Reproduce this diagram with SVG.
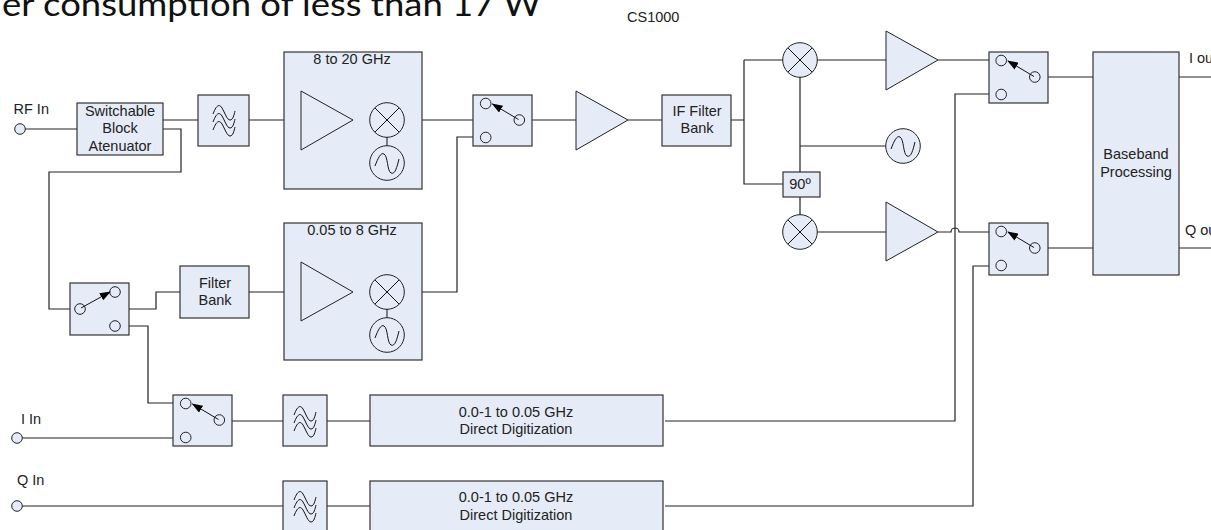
<svg xmlns="http://www.w3.org/2000/svg" width="1211" height="530" viewBox="0 0 1211 530">
<defs>
<marker id="ah" markerWidth="11" markerHeight="8" refX="10" refY="4" orient="auto" markerUnits="userSpaceOnUse"><path d="M0 0L11 4L0 8Z" fill="#000"/></marker>
<g id="mix"><circle r="17.3" class="s"/><path d="M-12.2-12.2L12.2 12.2M-12.2 12.2L12.2-12.2" class="l"/></g>
<g id="osc"><circle r="17.3" class="s"/><path d="M-12 3C-9-5-6-11-3-9C1-7 0 8 4 10C8 12 10 4 12-4" class="l"/></g>
<g id="flt"><path d="M-11-6C-8-14-5-17-2-12S3 0 6 0 10-5 11-9M-11 2C-8-6-5-9-2-4S3 8 6 8 10 3 11-1M-11 10C-8 2-5-1-2 4S3 16 6 16 10 11 11 7" class="l"/></g>
<g id="sw"><circle cx="12.700" cy="8.500" r="5.300" class="s"/><circle cx="46.300" cy="25" r="5.300" class="s"/><circle cx="12.700" cy="42.500" r="5.300" class="s"/><path d="M45.500 24.500L19.500 9" class="l" marker-end="url(#ah)"/></g>
</defs>
<style>
.s{fill:#e5ecf7;stroke:#222;stroke-width:1}
.b{fill:#e5ecf7;stroke:#333;stroke-width:1.200}
.l{fill:none;stroke:#111;stroke-width:1}
.c{fill:none;stroke:#222;stroke-width:1.200}
text{font-family:"Liberation Sans",Arial,sans-serif;font-size:14.500px;fill:#222}
.m{text-anchor:middle}
</style>
<text x="2" y="15.500" textLength="539" lengthAdjust="spacingAndGlyphs" style="font-family:Lato,sans-serif;font-size:33px;fill:#111">er consumption of less than 17 W</text>
<text x="627" y="22">CS1000</text>
<g id="connectors" class="c">
<path d="M25 129H77M163 120H198M249 120H284M163 129H181V172H49V309H70M422 120H473M532 120H576M628 120H662M731 120H744M744 60H783M744 60V184H783M800 77V172M800 197V215M800 146H886M817 60H886M817 232H886M938 60H996M938 232H951A4 4 0 0 1 959 232H996M1048 77H1093M1048 248H1093M1179 77H1211M1179 248H1211M129 309H156V292H180M249 292H301M353 292H370M404 292H457V137H480M120 326H148V403H180M232 421H283M327 421H370M22 438H180M22 506H283M327 506H370M665 421H955V94H996M665 506H973V266H996"/>
</g>
<g id="rf-in"><text x="13.500" y="114">RF In</text><circle cx="20" cy="129" r="5.300" class="s"/></g>
<g id="attenuator"><rect x="77" y="103" width="86" height="52" class="b"/><text class="m" x="120" y="116">Switchable</text><text class="m" x="120" y="133">Block</text><text class="m" x="120" y="151">Atenuator</text></g>
<g id="filter1"><rect x="198" y="95" width="51" height="51" class="b"/><use href="#flt" x="224" y="120"/></g>
<g id="band-high"><rect x="284" y="52" width="138" height="137" class="b"/><text class="m" x="352" y="63.500">8 to 20 GHz</text><path d="M301 91L353 120L301 150Z" class="s"/><use href="#mix" x="387" y="120"/><path d="M387 137V146" class="l"/><use href="#osc" x="387" y="163"/></g>
<g id="switch1"><rect x="473" y="95" width="59" height="51" class="b"/><use href="#sw" x="473" y="95"/></g>
<g id="amp1"><path d="M576 91L628 120L576 150Z" class="s"/></g>
<g id="if-filter"><rect x="662" y="95" width="69" height="51" class="b"/><text class="m" x="697" y="116">IF Filter</text><text class="m" x="697" y="133">Bank</text></g>
<g id="mixer-i"><use href="#mix" x="800" y="60"/></g>
<g id="phase"><rect x="783" y="172" width="37" height="25" class="b"/><text class="m" x="800" y="189">90º</text></g>
<g id="mixer-q"><use href="#mix" x="800" y="232"/></g>
<g id="lo"><use href="#osc" x="903" y="146"/></g>
<g id="amp-i"><path d="M886 31L938 60L886 90Z" class="s"/></g>
<g id="amp-q"><path d="M886 202L938 232L886 261Z" class="s"/></g>
<g id="switch-i"><rect x="989" y="52" width="59" height="51" class="b"/><use href="#sw" x="988.500" y="52"/></g>
<g id="switch-q"><rect x="989" y="223" width="59" height="52" class="b"/><use href="#sw" x="988.500" y="223"/></g>
<g id="baseband"><rect x="1093" y="52" width="86" height="223" class="b"/><text class="m" x="1136" y="159">Baseband</text><text class="m" x="1136" y="177">Processing</text></g>
<g id="i-out"><text x="1189" y="63">I out</text></g>
<g id="q-out"><text x="1185" y="235">Q out</text></g>
<g id="band-low"><rect x="284" y="223" width="138" height="137" class="b"/><text class="m" x="352" y="235">0.05 to 8 GHz</text><path d="M301 262L353 292L301 321Z" class="s"/><use href="#mix" x="387" y="292"/><path d="M387 309V318" class="l"/><use href="#osc" x="387" y="335"/></g>
<g id="filter-bank"><rect x="180" y="266" width="69" height="52" class="b"/><text class="m" x="215" y="288">Filter</text><text class="m" x="215" y="305">Bank</text></g>
<g id="switch-in"><rect x="70" y="283" width="59" height="52" class="b"/><circle cx="115" cy="292" r="5.300" class="s"/><circle cx="80" cy="309" r="5.300" class="s"/><circle cx="115" cy="326" r="5.300" class="s"/><path d="M81 308L110 292" class="l" marker-end="url(#ah)"/></g>
<g id="switch3"><rect x="173" y="395" width="59" height="51" class="b"/><use href="#sw" x="173" y="395"/></g>
<g id="i-in"><text x="21" y="424">I In</text><circle cx="17" cy="438" r="5.300" class="s"/></g>
<g id="q-in"><text x="17" y="485">Q In</text><circle cx="17" cy="506" r="5.300" class="s"/></g>
<g id="filter2"><rect x="283" y="395" width="44" height="51" class="b"/><use href="#flt" x="305" y="421"/></g>
<g id="filter3"><rect x="283" y="481" width="44" height="51" class="b"/><use href="#flt" x="305" y="506"/></g>
<g id="dd1"><rect x="370" y="395" width="293" height="51" class="b"/><text class="m" x="516" y="417">0.0-1 to 0.05 GHz</text><text class="m" x="516" y="434">Direct Digitization</text></g>
<g id="dd2"><rect x="370" y="481" width="293" height="51" class="b"/><text class="m" x="516" y="502">0.0-1 to 0.05 GHz</text><text class="m" x="516" y="520">Direct Digitization</text></g>
</svg>
